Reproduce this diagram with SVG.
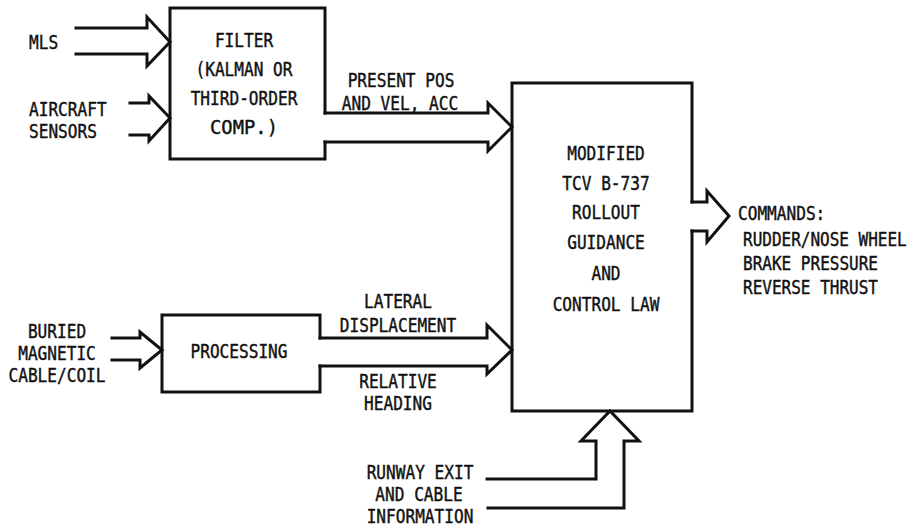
<svg xmlns="http://www.w3.org/2000/svg" width="923" height="530" viewBox="0 0 923 530">
<style>
.ln{fill:none;stroke:#111;stroke-width:3;stroke-linejoin:miter;stroke-linecap:square}
text{font-family:"DejaVu Sans Mono","Liberation Mono",monospace;font-size:20px;fill:#111;stroke:#111;stroke-width:0.45}
.m{text-anchor:middle}
</style>
<rect width="923" height="530" fill="#fff"/>
<g id="connectors">
<path class="ln" d="M76,28 L147,28 L147,17 L170,42 L147,66 L147,54 L76,54"/>
<path class="ln" d="M130,103 L149,103 L149,96 L170,118 L149,141 L149,135 L130,135"/>
<path class="ln" d="M325,113 L488,113 L488,103 L512,127 L488,151 L488,142 L325,142"/>
<path class="ln" d="M112,338 L140,338 L140,332 L162,350 L140,368 L140,360 L112,360"/>
<path class="ln" d="M320,338 L487,338 L487,325 L512,350 L487,374 L487,366 L320,366"/>
<path class="ln" d="M692,202 L707,202 L707,191 L729,216 L707,242 L707,231 L692,231"/>
<path class="ln" d="M487,479 L596,479 L596,441 L581,441 L610,411 L639,441 L624,441 L624,508 L488,508"/>
</g>
<g id="mls">
<text x="29" y="49" textLength="29.1" lengthAdjust="spacingAndGlyphs">MLS</text>
</g>
<g id="aircraft-sensors">
<text x="29" y="116" textLength="77.6" lengthAdjust="spacingAndGlyphs">AIRCRAFT</text>
<text x="29" y="138" textLength="67.9" lengthAdjust="spacingAndGlyphs">SENSORS</text>
</g>
<g id="filter">
<path class="ln" d="M325,113 L325,8 L170,8 L170,159 L325,159 L325,142"/>
<text class="m" x="244" y="47" textLength="58.2" lengthAdjust="spacingAndGlyphs">FILTER</text>
<text class="m" x="244" y="76" textLength="97" lengthAdjust="spacingAndGlyphs">(KALMAN OR</text>
<text class="m" x="244" y="105" textLength="106.7" lengthAdjust="spacingAndGlyphs">THIRD-ORDER</text>
<text class="m" x="244" y="134" textLength="67.9" lengthAdjust="spacingAndGlyphs">COMP.)</text>
</g>
<g id="label-present">
<text class="m" x="401" y="87" textLength="106.7" lengthAdjust="spacingAndGlyphs">PRESENT POS</text>
<text class="m" x="400" y="110" textLength="116.4" lengthAdjust="spacingAndGlyphs">AND VEL, ACC</text>
</g>
<g id="control-law">
<path class="ln" d="M692,202 L692,83 L512,83 L512,411 L692,411 L692,231"/>
<text class="m" x="606" y="160" textLength="77.6" lengthAdjust="spacingAndGlyphs">MODIFIED</text>
<text class="m" x="606" y="190" textLength="87.3" lengthAdjust="spacingAndGlyphs">TCV B-737</text>
<text class="m" x="606" y="219" textLength="67.9" lengthAdjust="spacingAndGlyphs">ROLLOUT</text>
<text class="m" x="606" y="249" textLength="77.6" lengthAdjust="spacingAndGlyphs">GUIDANCE</text>
<text class="m" x="606" y="280" textLength="29.1" lengthAdjust="spacingAndGlyphs">AND</text>
<text class="m" x="606" y="311" textLength="106.7" lengthAdjust="spacingAndGlyphs">CONTROL LAW</text>
</g>
<g id="commands">
<text x="738" y="220" textLength="87.3" lengthAdjust="spacingAndGlyphs">COMMANDS:</text>
<text transform="translate(743,246) scale(0.8,1)" x="0" y="0">RUDDER/NOSE WHEEL</text>
<text x="743" y="270" textLength="135" lengthAdjust="spacingAndGlyphs">BRAKE PRESSURE</text>
<text x="743" y="294" textLength="135" lengthAdjust="spacingAndGlyphs">REVERSE THRUST</text>
</g>
<g id="buried-cable">
<text class="m" x="57" y="338" textLength="58.2" lengthAdjust="spacingAndGlyphs">BURIED</text>
<text class="m" x="57" y="360" textLength="77.6" lengthAdjust="spacingAndGlyphs">MAGNETIC</text>
<text class="m" x="57" y="382" textLength="97" lengthAdjust="spacingAndGlyphs">CABLE/COIL</text>
</g>
<g id="processing">
<path class="ln" d="M320,338 L320,315 L162,315 L162,392 L320,392 L320,366"/>
<text class="m" x="239" y="358" textLength="97" lengthAdjust="spacingAndGlyphs">PROCESSING</text>
</g>
<g id="label-lateral">
<text class="m" x="398" y="308" textLength="67.9" lengthAdjust="spacingAndGlyphs">LATERAL</text>
<text class="m" x="398" y="332" textLength="116.4" lengthAdjust="spacingAndGlyphs">DISPLACEMENT</text>
</g>
<g id="label-heading">
<text class="m" x="398" y="388" textLength="77.6" lengthAdjust="spacingAndGlyphs">RELATIVE</text>
<text class="m" x="398" y="410" textLength="67.9" lengthAdjust="spacingAndGlyphs">HEADING</text>
</g>
<g id="runway-exit">
<text class="m" x="420" y="479" textLength="106.7" lengthAdjust="spacingAndGlyphs">RUNWAY EXIT</text>
<text class="m" x="419" y="501" textLength="87.3" lengthAdjust="spacingAndGlyphs">AND CABLE</text>
<text class="m" x="420" y="523" textLength="106.7" lengthAdjust="spacingAndGlyphs">INFORMATION</text>
</g>
</svg>
